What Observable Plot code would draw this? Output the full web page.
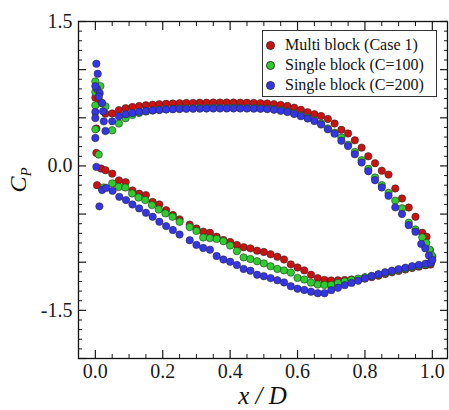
<!DOCTYPE html>
<html>
<head>
<meta charset="utf-8">
<script src="https://cdn.jsdelivr.net/npm/d3@7"></script>
<script src="https://cdn.jsdelivr.net/npm/@observablehq/plot@0.6"></script>
<style>
  html, body { margin: 0; padding: 0; background: white; }
  #wrap { position: relative; width: 449px; height: 410px; }
  #legend {
    position: absolute; left: 262px; top: 30px; width: 173px; height: 65px;
    border: 1px solid #333; background: white;
    font-family: "Liberation Serif", "Times New Roman", serif; font-size: 16px; color: #111;
  }
  .row { position: absolute; left: 0; height: 20px; line-height: 20px; white-space: nowrap; }
  .sw { position: absolute; left: 3px; top: 6px; width: 7px; height: 7px; border-radius: 50%; border: 0.7px solid #333; }
  .lab { position: absolute; left: 22px; top: 0; }
</style>
</head>
<body>
<div id="wrap"></div>
<script>
// ---------- data ----------
const seriesNames = ["Multi block (Case 1)", "Single block (C=100)", "Single block (C=200)"];
const seriesColors = ["#cc1111", "#2ecc2e", "#3535e8"];

// Multi block (Case 1)
const multiUpperX = [0.0, 0.01, 0.017, 0.03, 0.003, 0.003, 0.05, 0.07, 0.09, 0.11, 0.13, 0.15, 0.17, 0.19, 0.21, 0.23, 0.25, 0.27, 0.29, 0.31, 0.33, 0.35, 0.37, 0.39, 0.41, 0.43, 0.45, 0.47, 0.49, 0.51, 0.53, 0.55, 0.57, 0.59, 0.61, 0.63, 0.65, 0.67, 0.69, 0.71, 0.73, 0.75, 0.77, 0.79, 0.81, 0.83, 0.85, 0.87, 0.89, 0.91, 0.93, 0.95, 0.97, 0.983, 0.993, 1.0];
const multiUpperCp = [0.709, 0.69, 0.655, 0.543, 0.388, 0.135, 0.545, 0.58, 0.6, 0.612, 0.622, 0.63, 0.636, 0.641, 0.645, 0.648, 0.651, 0.653, 0.655, 0.656, 0.657, 0.658, 0.658, 0.658, 0.658, 0.657, 0.656, 0.654, 0.652, 0.648, 0.642, 0.634, 0.622, 0.605, 0.583, 0.558, 0.536, 0.518, 0.488, 0.44, 0.375, 0.337, 0.266, 0.19, 0.1, 0.028, -0.05, -0.09, -0.234, -0.338, -0.432, -0.528, -0.694, -0.735, -0.874, -0.943];
const multiLowerX = [0.005, 0.017, 0.03, 0.05, 0.07, 0.09, 0.11, 0.13, 0.15, 0.17, 0.19, 0.21, 0.23, 0.25, 0.28, 0.30, 0.32, 0.34, 0.36, 0.38, 0.40, 0.42, 0.44, 0.46, 0.48, 0.50, 0.52, 0.54, 0.56, 0.58, 0.60, 0.62, 0.64, 0.66, 0.68, 0.70, 0.72, 0.74, 0.76, 0.78, 0.80, 0.82, 0.84, 0.86, 0.88, 0.90, 0.92, 0.94, 0.96, 0.98, 0.995];
const multiLowerCp = [-0.2, -0.027, -0.045, -0.08, -0.15, -0.168, -0.255, -0.288, -0.303, -0.373, -0.4, -0.459, -0.51, -0.555, -0.61, -0.65, -0.682, -0.694, -0.735, -0.77, -0.79, -0.82, -0.844, -0.856, -0.88, -0.894, -0.918, -0.943, -0.972, -1.022, -1.055, -1.085, -1.13, -1.165, -1.184, -1.19, -1.188, -1.185, -1.18, -1.176, -1.17, -1.155, -1.14, -1.122, -1.105, -1.09, -1.075, -1.06, -1.046, -1.033, -1.025];

// Single block (C=100)
const c100UpperX = [0.0, 0.015, 0.0, 0.0, 0.03, 0.0, 0.05, 0.01, 0.07, 0.09, 0.11, 0.13, 0.15, 0.17, 0.19, 0.21, 0.23, 0.25, 0.27, 0.29, 0.31, 0.33, 0.35, 0.37, 0.39, 0.41, 0.43, 0.45, 0.47, 0.49, 0.51, 0.53, 0.55, 0.57, 0.59, 0.61, 0.63, 0.65, 0.67, 0.69, 0.71, 0.73, 0.75, 0.77, 0.79, 0.81, 0.83, 0.85, 0.87, 0.89, 0.91, 0.93, 0.95, 0.97, 0.982, 0.992, 0.998];
const c100UpperCp = [0.878, 0.829, 0.767, 0.629, 0.619, 0.38, 0.37, 0.118, 0.44, 0.495, 0.53, 0.55, 0.565, 0.575, 0.583, 0.589, 0.593, 0.596, 0.598, 0.6, 0.601, 0.602, 0.603, 0.603, 0.603, 0.603, 0.603, 0.602, 0.6, 0.598, 0.595, 0.59, 0.58, 0.567, 0.548, 0.525, 0.5, 0.475, 0.44, 0.39, 0.345, 0.295, 0.22, 0.145, 0.06, -0.03, -0.12, -0.2, -0.28, -0.36, -0.44, -0.59, -0.66, -0.742, -0.8, -0.87, -0.93];
const c100LowerX = [0.025, 0.05, 0.069, 0.089, 0.109, 0.128, 0.148, 0.168, 0.188, 0.208, 0.229, 0.25, 0.28, 0.30, 0.32, 0.34, 0.36, 0.38, 0.40, 0.42, 0.44, 0.46, 0.48, 0.50, 0.52, 0.54, 0.56, 0.58, 0.60, 0.62, 0.64, 0.66, 0.68, 0.70, 0.72, 0.74, 0.76, 0.78, 0.80, 0.82, 0.84, 0.86, 0.88, 0.90, 0.92, 0.94, 0.96, 0.98, 0.995];
const c100LowerCp = [-0.224, -0.182, -0.218, -0.224, -0.286, -0.328, -0.355, -0.407, -0.452, -0.493, -0.528, -0.58, -0.635, -0.675, -0.744, -0.75, -0.758, -0.782, -0.827, -0.885, -0.95, -0.967, -0.99, -1.012, -1.042, -1.07, -1.085, -1.108, -1.163, -1.18, -1.212, -1.232, -1.236, -1.236, -1.215, -1.2, -1.185, -1.17, -1.155, -1.145, -1.13, -1.113, -1.097, -1.082, -1.067, -1.052, -1.038, -1.025, -1.012];

// Single block (C=200)
const c200UpperX = [0.003, 0.007, 0.005, 0.0, 0.013, 0.01, 0.02, 0.0, 0.023, 0.0, 0.025, 0.03, 0.0, 0.05, 0.07, 0.09, 0.11, 0.13, 0.15, 0.17, 0.19, 0.21, 0.23, 0.25, 0.27, 0.29, 0.31, 0.33, 0.35, 0.37, 0.39, 0.41, 0.43, 0.45, 0.47, 0.49, 0.51, 0.53, 0.55, 0.57, 0.59, 0.61, 0.63, 0.65, 0.67, 0.69, 0.71, 0.73, 0.75, 0.77, 0.79, 0.81, 0.83, 0.85, 0.87, 0.89, 0.91, 0.93, 0.95, 0.967, 0.979, 0.99, 0.997];
const c200UpperCp = [1.061, 0.957, 0.8, 0.829, 0.756, 0.72, 0.653, 0.56, 0.567, 0.497, 0.463, 0.363, 0.29, 0.463, 0.515, 0.536, 0.55, 0.561, 0.57, 0.577, 0.582, 0.586, 0.589, 0.591, 0.593, 0.594, 0.595, 0.596, 0.596, 0.597, 0.597, 0.597, 0.597, 0.596, 0.595, 0.593, 0.59, 0.584, 0.572, 0.56, 0.54, 0.517, 0.492, 0.466, 0.43, 0.38, 0.335, 0.262, 0.206, 0.121, 0.035, -0.055, -0.148, -0.224, -0.31, -0.43, -0.5, -0.615, -0.684, -0.81, -0.856, -0.93, -0.988];
const c200LowerX = [0.003, 0.012, 0.02, 0.032, 0.051, 0.071, 0.091, 0.11, 0.13, 0.15, 0.17, 0.19, 0.21, 0.23, 0.25, 0.28, 0.30, 0.32, 0.34, 0.36, 0.38, 0.40, 0.42, 0.44, 0.46, 0.48, 0.50, 0.52, 0.54, 0.56, 0.58, 0.60, 0.62, 0.64, 0.66, 0.68, 0.70, 0.72, 0.74, 0.76, 0.78, 0.80, 0.82, 0.84, 0.86, 0.88, 0.90, 0.92, 0.94, 0.96, 0.98, 0.995, 1.0];
const c200LowerCp = [-0.01, -0.42, -0.25, -0.228, -0.259, -0.321, -0.355, -0.4, -0.441, -0.487, -0.528, -0.58, -0.625, -0.666, -0.712, -0.772, -0.82, -0.852, -0.87, -0.936, -0.972, -0.995, -1.029, -1.07, -1.088, -1.13, -1.145, -1.165, -1.188, -1.21, -1.25, -1.275, -1.288, -1.306, -1.322, -1.322, -1.29, -1.265, -1.238, -1.215, -1.192, -1.167, -1.143, -1.125, -1.105, -1.088, -1.072, -1.057, -1.042, -1.028, -1.015, -1.005, -0.977];

// axes
const xLabelTicks = [0.0, 0.2, 0.4, 0.6, 0.8, 1.0];
const yLabelTicks = [1.5, 0.0, -1.5];
const xLabel = "x / D";

// ---------- build ----------
function rows(xs, ys, s) { return xs.map((x, i) => ({x, cp: ys[i], series: s})); }
const multi = [...rows(multiUpperX, multiUpperCp, 0), ...rows(multiLowerX, multiLowerCp, 0)];
const c100 = [...rows(c100UpperX, c100UpperCp, 1), ...rows(c100LowerX, c100LowerCp, 1)];
const c200 = [...rows(c200UpperX, c200UpperCp, 2), ...rows(c200LowerX, c200LowerCp, 2)];

const xMajor = d3.range(0, 1.0001, 0.2);
const xMinor = d3.range(0, 1.0001, 0.05).filter(v => Math.abs(v / 0.2 - Math.round(v / 0.2)) > 1e-6);
const yMajor = d3.range(-2, 1.5001, 0.5);
const yMinor = d3.range(-2, 1.5001, 0.1).filter(v => Math.abs(v / 0.5 - Math.round(v / 0.5)) > 1e-6);
const blank = () => "";
const dotStyle = {r: 3.7, stroke: "#2a2a2a", strokeWidth: 0.7, strokeOpacity: 0.8};

const chart = Plot.plot({
  width: 449, height: 410,
  marginLeft: 78, marginRight: 2, marginTop: 21, marginBottom: 52,
  x: {domain: [-0.05, 1.045]},
  y: {domain: [-2, 1.5]},
  style: {fontFamily: "'Liberation Serif', 'Times New Roman', serif", fontSize: "20px", color: "#1a1a1a", background: "white", overflow: "visible"},
  marks: [
    Plot.dot(multi, {x: "x", y: "cp", fill: seriesColors[0], ...dotStyle}),
    Plot.dot(c100, {x: "x", y: "cp", fill: seriesColors[1], ...dotStyle}),
    Plot.dot(c200, {x: "x", y: "cp", fill: seriesColors[2], ...dotStyle}),
    Plot.axisX(xMajor, {anchor: "bottom", tickSize: -8, tickFormat: blank, label: null, strokeWidth: 1.2}),
    Plot.axisX(xMajor, {anchor: "top", tickSize: -8, tickFormat: blank, label: null, strokeWidth: 1.2}),
    Plot.axisX(xMinor, {anchor: "bottom", tickSize: -4, tickFormat: blank, label: null}),
    Plot.axisX(xMinor, {anchor: "top", tickSize: -4, tickFormat: blank, label: null}),
    Plot.axisY(yMajor, {anchor: "left", tickSize: -8, tickFormat: blank, label: null, strokeWidth: 1.2}),
    Plot.axisY(yMajor, {anchor: "right", tickSize: -8, tickFormat: blank, label: null, strokeWidth: 1.2}),
    Plot.axisY(yMinor, {anchor: "left", tickSize: -4, tickFormat: blank, label: null}),
    Plot.axisY(yMinor, {anchor: "right", tickSize: -4, tickFormat: blank, label: null}),
    Plot.axisX(xLabelTicks, {anchor: "bottom", tickSize: 0, tickPadding: 5, tickFormat: d => d.toFixed(1), label: null, fontSize: 20}),
    Plot.axisY(yLabelTicks, {anchor: "left", tickSize: 0, tickPadding: 6, tickFormat: d => d.toFixed(1), label: null, fontSize: 20}),
    Plot.frame({stroke: "#111", strokeWidth: 1.3})
  ]
});

const wrap = document.getElementById("wrap");
wrap.appendChild(chart);

// axis titles
const svg = d3.select(chart);
svg.append("text")
  .attr("x", 262.5).attr("y", 404)
  .attr("text-anchor", "middle")
  .attr("font-family", "'Liberation Serif', serif")
  .attr("font-style", "italic")
  .attr("font-size", 25)
  .attr("fill", "#111")
  .text(xLabel);
const yl = svg.append("text")
  .attr("transform", "translate(26,180) rotate(-90)")
  .attr("text-anchor", "middle")
  .attr("font-family", "'Liberation Serif', serif")
  .attr("font-style", "italic")
  .attr("font-size", 24)
  .attr("fill", "#111");
yl.append("tspan").text("C");
yl.append("tspan").attr("font-size", 15).attr("dy", 5).text("P");

// legend
const legend = document.createElement("div");
legend.id = "legend";
seriesNames.forEach((name, i) => {
  const row = document.createElement("div");
  row.className = "row";
  row.style.top = (4 + i * 20) + "px";
  const sw = document.createElement("span");
  sw.className = "sw";
  sw.style.background = seriesColors[i];
  const lab = document.createElement("span");
  lab.className = "lab";
  lab.textContent = name;
  row.appendChild(sw); row.appendChild(lab);
  legend.appendChild(row);
});
wrap.appendChild(legend);
</script>
</body>
</html>
